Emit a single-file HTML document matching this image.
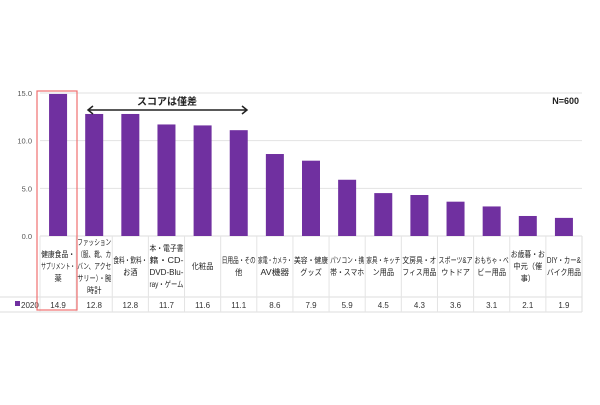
<!DOCTYPE html>
<html><head><meta charset="utf-8"><style>
body{margin:0;background:#fff;}
svg text{font-family:"Liberation Sans","Noto Sans CJK JP",sans-serif;}
</style></head><body>
<svg id="c" width="600" height="400" viewBox="0 0 600 400"></svg>
<script>
const categories=["健康食品・|サプリメント・|薬","ファッション|（服、靴、カ|バン、アクセ|サリー）・腕|時計","食料・飲料・|お酒","本・電子書|籍・CD-|DVD-Blu-|ray・ゲーム","化粧品","日用品・その|他","家電・カメラ・|AV機器","美容・健康|グッズ","パソコン・携|帯・スマホ","家具・キッチ|ン用品","文房具・オ|フィス用品","スポーツ&ア|ウトドア","おもちゃ・ベ|ビー用品","お歳暮・お|中元（催|事）","DIY・カー&|バイク用品"];
const values2020=[14.9,12.8,12.8,11.7,11.6,11.1,8.6,7.9,5.9,4.5,4.3,3.6,3.1,2.1,1.9];
const yTicks=[0,5,10,15];
const yTickLabels=["0.0","5.0","10.0","15.0"];
const seriesName="2020";
const NS="http://www.w3.org/2000/svg";
const svg=document.getElementById('c');
const x0=40,x1=582,yTop=93,yBot=236,yMax=15;
const colW=(x1-x0)/categories.length;
const yS=v=>yBot-(v/yMax)*(yBot-yTop);
const xC=i=>x0+colW*(i+0.5);
function mk(t,a){const e=document.createElementNS(NS,t);for(const k in a)e.setAttribute(k,a[k]);svg.appendChild(e);return e;}
yTicks.forEach((t,i)=>{
 const g=mk('line',{x1:x0,x2:x1,y1:yS(t),y2:yS(t),stroke:'#e2e2e2','stroke-width':1});
 
 
 const l=mk('text',{x:32,y:yS(t)+3,'font-size':7.5,fill:'#555','text-anchor':'end'});
 l.textContent=yTickLabels[i];
 
 
});
// table lines
const tbl=[[x0,yBot,x1,yBot],[0,297,x1,297],[0,312,x1,312],[x1,236,x1,312]];
tbl.forEach(a=>{const e=mk('line',{x1:a[0],y1:a[1],x2:a[2],y2:a[3],stroke:'#ddd','stroke-width':1});
 
 });
categories.forEach((c,i)=>{
 const bx=xC(i);
 const b=mk('rect',{x:bx-9,y:yS(values2020[i]),width:18,height:yBot-yS(values2020[i]),fill:'#7030a0'});
 
 
 const d=mk('line',{x1:x0+colW*i,x2:x0+colW*i,y1:236,y2:312,stroke:'#e4e4e4'});
 
 
 const lines=c.split('|');const lh=12;const start=266-(lines.length-1)*lh/2;
 lines.forEach((s,j)=>{const t=mk('text',{x:bx,y:start+j*lh+3,'font-size':8,fill:'#222','text-anchor':'middle',textLength:Math.min(s.length*7.2,34),lengthAdjust:'spacingAndGlyphs'});
  t.textContent=s;
  
  });
 const v=mk('text',{x:bx,y:308,'font-size':8,fill:'#333','text-anchor':'middle'});
 v.textContent=values2020[i].toFixed(1);
 
 
});
const lk=mk('rect',{x:15,y:301,width:5,height:5,fill:'#7030a0'});


const lt=mk('text',{x:21,y:308,'font-size':8,fill:'#333'});lt.textContent=seriesName;


const hb=mk('rect',{x:37,y:91,width:40,height:219,fill:'none',stroke:'#f07070','stroke-width':1.2});


const ar=mk('path',{d:'M88 110 L247 110 M93 106 L88 110 L93 114 M242 106 L247 110 L242 114',stroke:'#222','stroke-width':1.5,fill:'none'});


const at=mk('text',{x:167,y:105,'font-size':10,'font-weight':'bold',fill:'#222','text-anchor':'middle'});at.textContent='スコアは僅差';


const nt=mk('text',{x:579,y:104,'font-size':9,'font-weight':'bold',fill:'#222','text-anchor':'end'});nt.textContent='N=600';


</script>
</body></html>
